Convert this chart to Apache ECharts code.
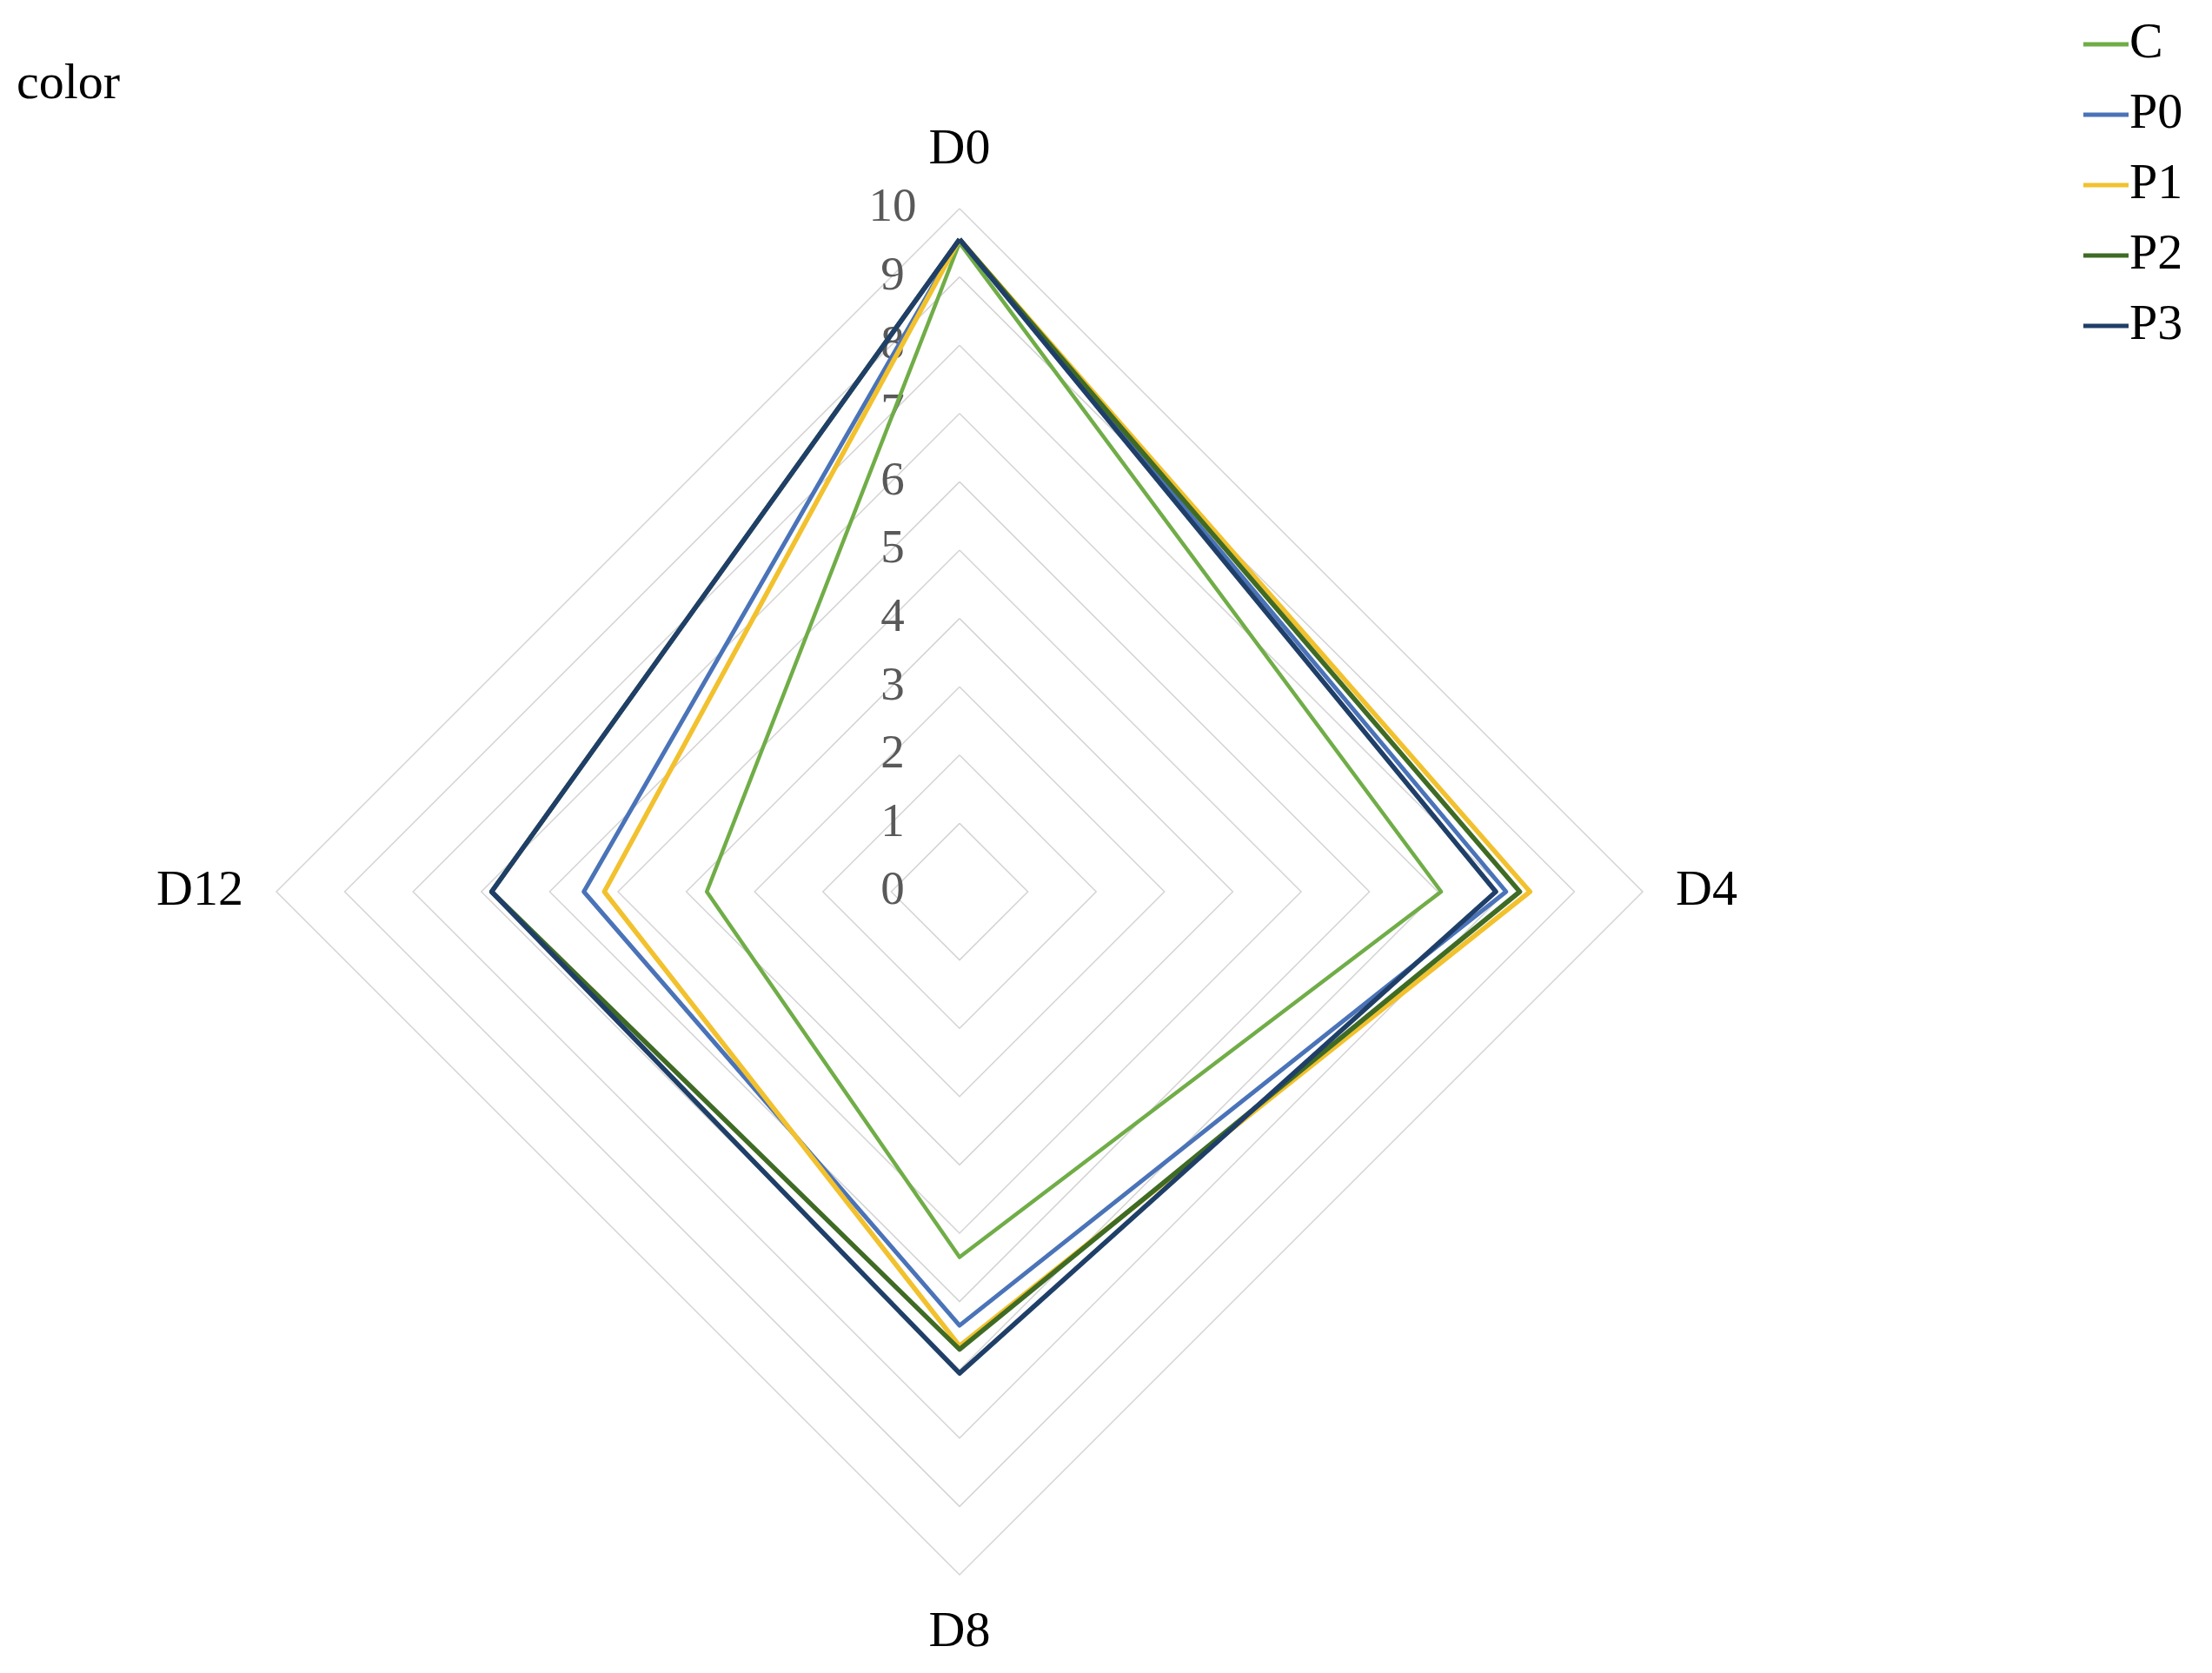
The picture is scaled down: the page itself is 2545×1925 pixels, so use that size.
<!DOCTYPE html>
<html>
<head>
<meta charset="utf-8">
<script src="https://cdn.jsdelivr.net/npm/echarts@6/dist/echarts.min.js"></script>
<style>
html,body{margin:0;padding:0;background:#fff;}
#chart{width:2545px;height:1925px;}
</style>
</head>
<body>
<div id="chart"></div>
<script>
// Categories (clockwise from top, as in the reference)
var categories = ['D0', 'D4', 'D8', 'D12'];
var seriesNames = ['C', 'P0', 'P1', 'P2', 'P3'];
var valuesC  = [9.5, 7.05, 5.35, 3.7];
var valuesP0 = [9.55, 8.0, 6.35, 5.5];
var valuesP1 = [9.55, 8.35, 6.65, 5.2];
var valuesP2 = [9.55, 8.2, 6.7, 6.85];
var valuesP3 = [9.55, 7.85, 7.05, 6.85];
var axisMin = 0, axisMax = 10, axisSplits = 10;

var colors = ['#70AD47', '#4A73B8', '#F2C12E', '#3F6B25', '#1F3F68'];
var widths = [4.5, 5, 5.5, 5.5, 5.5];
var allValues = [valuesC, valuesP0, valuesP1, valuesP2, valuesP3];

// ECharts radar places indicators counter-clockwise; reorder to get clockwise layout
var order = [0, 3, 2, 1];
var FONT = '"Liberation Serif", "Times New Roman", serif';

var indicator = order.map(function (i, k) {
  var ind = { name: categories[i], min: axisMin, max: axisMax };
  if (k === 0) {
    ind.axisLabel = {
      show: true,
      fontFamily: FONT,
      fontSize: 55,
      color: '#595959',
      align: 'center',
      verticalAlign: 'middle',
      margin: 77,
      formatter: function (v) { return String(v); }
    };
  }
  return ind;
});

var series = allValues.map(function (vals, s) {
  return {
    type: 'radar',
    name: seriesNames[s],
    symbol: 'none',
    lineStyle: { color: colors[s], width: widths[s] },
    itemStyle: { color: colors[s] },
    data: [{ name: seriesNames[s], value: order.map(function (i) { return vals[i]; }) }]
  };
});

var chart = echarts.init(document.getElementById('chart'), null, { renderer: 'canvas' });
chart.setOption({
  backgroundColor: '#ffffff',
  animation: false,
  color: colors,
  title: {
    text: 'color',
    left: 14,
    top: 64,
    textStyle: { fontFamily: FONT, fontSize: 58, fontWeight: 'normal', color: '#000' }
  },
  legend: {
    orient: 'vertical',
    left: 2392,
    top: 17,
    itemWidth: 52,
    itemHeight: 5,
    itemGap: 23,
    icon: 'rect',
    data: seriesNames,
    textStyle: { fontFamily: FONT, fontSize: 58, color: '#000', lineHeight: 58, padding: [0, 0, 0, -4] }
  },
  radar: {
    center: [1104, 1026],
    radius: 786,
    startAngle: 90,
    shape: 'polygon',
    splitNumber: axisSplits,
    indicator: indicator,
    nameGap: 38,
    axisName: { fontFamily: FONT, fontSize: 58, color: '#000' },
    axisLine: { show: false },
    axisTick: { show: false },
    axisLabel: { show: false },
    splitLine: { lineStyle: { color: '#D4D4D4', width: 1.5 } },
    splitArea: { show: false }
  },
  series: series
});
</script>
</body>
</html>
